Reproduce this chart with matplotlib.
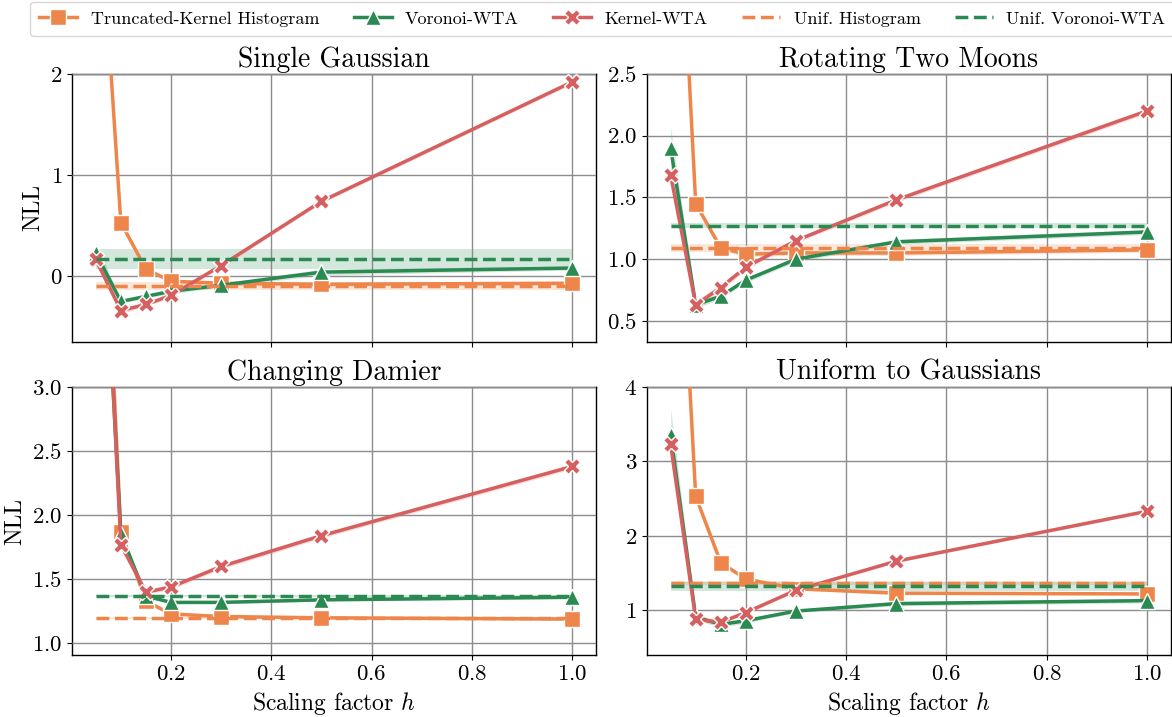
import matplotlib
matplotlib.use("Agg")
import matplotlib.pyplot as plt
import numpy as np

plt.rcParams['font.family'] = 'cmr10'
plt.rcParams['mathtext.fontset'] = 'cm'
plt.rcParams['axes.formatter.use_mathtext'] = True
plt.rcParams['axes.unicode_minus'] = False

# scaling factors h
h = [0.05, 0.1, 0.15, 0.2, 0.3, 0.5, 1.0]

titles = ["Single Gaussian", "Rotating Two Moons", "Changing Damier", "Uniform to Gaussians"]

# mean NLL per dataset
hist = [
    [4.3, 0.53, 0.07, -0.05, -0.07, -0.08, -0.07],
    [5.4, 1.45, 1.09, 1.04, 1.05, 1.05, 1.075],
    [6.0, 1.87, 1.33, 1.23, 1.21, 1.20, 1.19],
    [8.8, 2.53, 1.64, 1.42, 1.29, 1.23, 1.22],
]
voronoi = [
    [0.23, -0.25, -0.20, -0.15, -0.09, 0.04, 0.08],
    [1.90, 0.63, 0.70, 0.83, 1.00, 1.14, 1.22],
    [5.5, 1.85, 1.37, 1.32, 1.32, 1.34, 1.36],
    [3.36, 0.91, 0.81, 0.86, 0.99, 1.09, 1.13],
]
kernel = [
    [0.165, -0.34, -0.28, -0.19, 0.105, 0.74, 1.92],
    [1.68, 0.63, 0.77, 0.935, 1.15, 1.48, 2.20],
    [5.7, 1.77, 1.40, 1.44, 1.60, 1.84, 2.38],
    [3.23, 0.88, 0.84, 0.97, 1.27, 1.66, 2.33],
]
# confidence half-widths (rough)
hist_ci = [
    [0.3, 0.03, 0.02, 0.02, 0.02, 0.02, 0.02],
    [0.3, 0.03, 0.02, 0.02, 0.02, 0.02, 0.02],
    [0.3, 0.03, 0.02, 0.01, 0.01, 0.01, 0.01],
    [0.3, 0.05, 0.03, 0.02, 0.02, 0.02, 0.02],
]
voronoi_ci = [
    [0.1, 0.02, 0.02, 0.02, 0.02, 0.03, 0.02],
    [0.17, 0.03, 0.02, 0.02, 0.02, 0.02, 0.02],
    [0.3, 0.03, 0.02, 0.01, 0.01, 0.01, 0.01],
    [0.35, 0.04, 0.04, 0.03, 0.02, 0.03, 0.03],
]
kernel_ci = [
    [0.04, 0.03, 0.02, 0.02, 0.02, 0.02, 0.02],
    [0.05, 0.03, 0.03, 0.02, 0.02, 0.02, 0.02],
    [0.3, 0.03, 0.02, 0.02, 0.02, 0.02, 0.02],
    [0.1, 0.03, 0.03, 0.02, 0.02, 0.02, 0.02],
]
# uniform baselines (mean, half-width)
unif_hist = [-0.10, 1.09, 1.20, 1.37]
unif_hist_ci = [0.04, 0.03, 0.01, 0.03]
unif_vor = [0.17, 1.27, 1.37, 1.32]
unif_vor_ci = [0.10, 0.02, 0.01, 0.06]

ylims = [(-0.65, 2.0), (0.33, 2.5), (0.91, 3.0), (0.4, 4.0)]
yticks = [[0, 1, 2], [0.5, 1.0, 1.5, 2.0, 2.5], [1.0, 1.5, 2.0, 2.5, 3.0], [1, 2, 3, 4]]

c_hist = '#EE854A'
c_vor = '#2A8A52'
c_ker = '#D65F5F'

fig, axes = plt.subplots(2, 2, figsize=(11.72, 7.17), dpi=100, sharex=True)
fig.subplots_adjust(left=0.0614, right=0.999, top=0.897, bottom=0.0865, wspace=0.097, hspace=0.168)

hx = np.array(h)
for i, ax in enumerate(axes.flat):
    ax.set_axisbelow(False)
    ax.grid(True, color='#8c8c8c', linewidth=1.0, zorder=0)
    for mean, ci, col, mk, lab in [
        (hist[i], hist_ci[i], c_hist, 's', 'Truncated-Kernel Histogram'),
        (voronoi[i], voronoi_ci[i], c_vor, '^', 'Voronoi-WTA'),
        (kernel[i], kernel_ci[i], c_ker, 'X', 'Kernel-WTA'),
    ]:
        m = np.array(mean)
        c = np.array(ci)
        ax.fill_between(hx, m - c, m + c, color=col, alpha=0.2, linewidth=0, zorder=2)
        ax.plot(hx, m, color=col, marker=mk, markersize=11, markeredgecolor='white',
                markeredgewidth=1.0, linewidth=2.5, label=lab, zorder=3)
    ax.fill_between([h[0], h[-1]], unif_hist[i] - unif_hist_ci[i], unif_hist[i] + unif_hist_ci[i],
                    color=c_hist, alpha=0.2, linewidth=0, zorder=2)
    ax.plot([h[0], h[-1]], [unif_hist[i]] * 2, color=c_hist, linestyle='--', linewidth=2.5,
            label='Unif. Histogram', zorder=3)
    ax.fill_between([h[0], h[-1]], unif_vor[i] - unif_vor_ci[i], unif_vor[i] + unif_vor_ci[i],
                    color=c_vor, alpha=0.2, linewidth=0, zorder=2)
    ax.plot([h[0], h[-1]], [unif_vor[i]] * 2, color=c_vor, linestyle='--', linewidth=2.5,
            label='Unif. Voronoi-WTA', zorder=3)

    ax.set_ylim(*ylims[i])
    ax.set_yticks(yticks[i])
    ax.set_title(titles[i], fontsize=20, pad=5)
    ax.tick_params(labelsize=16.5)
    for s in ax.spines.values():
        s.set_color('black')
        s.set_linewidth(1.0)

axes[0, 0].set_xlim(0.0025, 1.0475)
axes[1, 0].set_xticks([0.2, 0.4, 0.6, 0.8, 1.0])
axes[0, 0].set_ylabel('NLL', fontsize=17)
axes[1, 0].set_ylabel('NLL', fontsize=17)
axes[1, 0].set_xlabel('Scaling factor $h$', fontsize=17)
axes[1, 1].set_xlabel('Scaling factor $h$', fontsize=17)

handles, labels = axes[0, 0].get_legend_handles_labels()
fig.legend(handles, labels, loc='upper center', ncol=5, bbox_to_anchor=(0.514, 1.01),
           fontsize=13, frameon=True, columnspacing=1.9, handlelength=2.1,
           handletextpad=0.75, borderpad=0.5)

fig.savefig('out.png', dpi=100)
